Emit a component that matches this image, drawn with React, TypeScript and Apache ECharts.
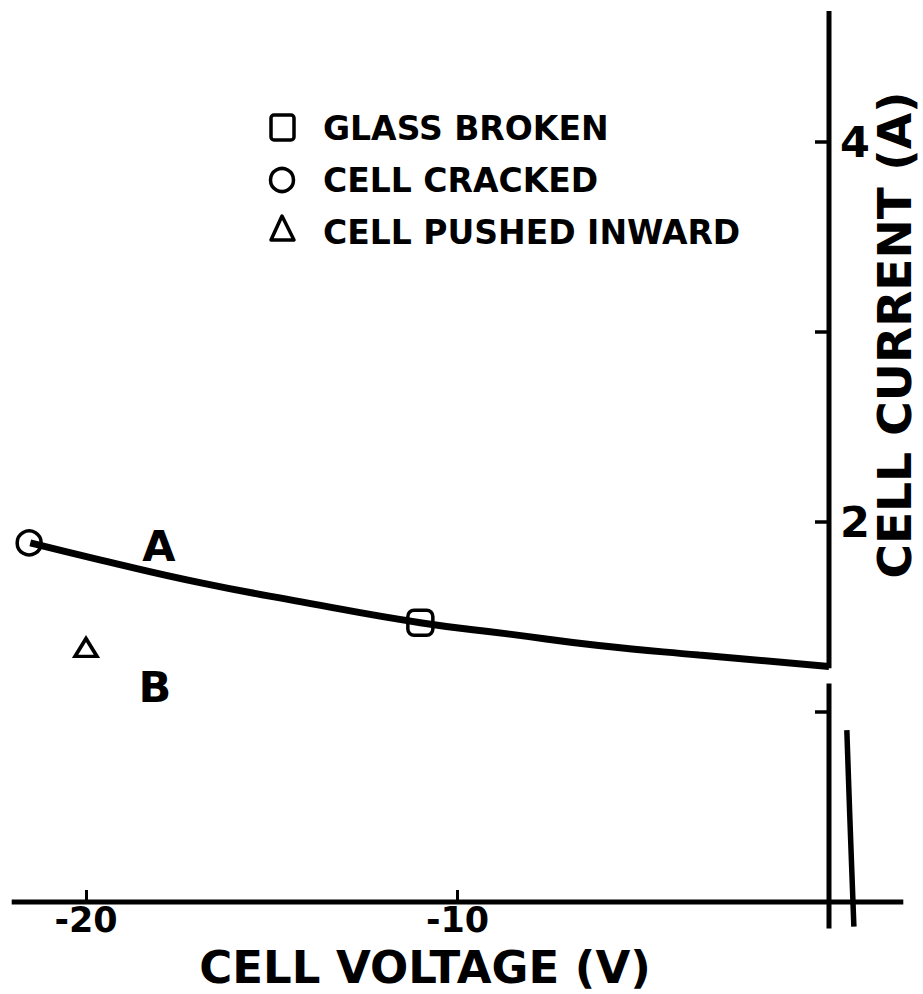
import React, { useEffect, useRef } from "react";
import * as echarts from "echarts";

// Curve A (reverse-bias I-V), volts / amps
const curveAVoltage = [-21.5, -19.6, -16.9, -14.2, -11.0, -8.6, -6.2, -3.5, 0];
const curveACurrent = [1.89, 1.8, 1.68, 1.58, 1.47, 1.41, 1.35, 1.3, 1.24];

// Near-vertical forward branch just right of V = 0
const forwardVoltage = [0.48, 0.56, 0.67];
const forwardCurrent = [0.905, 0.45, -0.13];

// Event markers
const glassBroken = [-11.0, 1.47];
const cellCracked = [-21.53, 1.89];
const cellPushedInward = [-20.0, 1.34];

// Broken current axis at V = 0, and voltage axis extent
const axisLowerSegment = [-0.14, 1.15];
const axisUpperSegment = [1.23, 4.69];
const voltageAxisExtent = [-22, 2];

// Axis ranges and ticks
const xRangeCurrentAxis = [-22, 0];
const xRangeFull = [-22, 2];
const yRange = [0, 4.69];
const xTicks = [-20, -10];
const xTickLabels = [-20, -10];
const yTicks = [1, 2, 3, 4];
const yTickLabels = [2, 4];

const legendLabels = ["GLASS BROKEN", "CELL CRACKED", "CELL PUSHED INWARD"];
const curveNames = ["A", "B"];

const FONT = "DejaVu Sans";

export default function App() {
  const ref = useRef<HTMLDivElement>(null);

  useEffect(() => {
    if (!ref.current) return;
    const chart = echarts.init(ref.current, null, { renderer: "svg" });
    const black = "#000";
    const zip = (a: number[], b: number[]) => a.map((v, i) => [v, b[i]]);
    const lineSeries = (name: string, data: number[][], width: number, smooth: any = false) => ({
      type: "line",
      name,
      data,
      xAxisIndex: 1,
      yAxisIndex: 1,
      symbol: "none",
      smooth,
      clip: false,
      silent: true,
      lineStyle: { color: black, width },
    });
    const markerStyle = { color: "rgba(255,255,255,0)", borderColor: black, borderWidth: 3.5, opacity: 1 };
    const scatter = (name: string, point: number[], symbol: string, size: any) => ({
      type: "scatter",
      name,
      data: [point],
      xAxisIndex: 1,
      yAxisIndex: 1,
      symbol,
      symbolSize: size,
      clip: false,
      itemStyle: markerStyle,
      z: 5,
    });
    const hiddenAxisParts = {
      axisLine: { show: false, onZero: false },
      axisTick: { show: false },
      axisLabel: { show: false },
      splitLine: { show: false },
    };

    const option: any = {
      animation: false,
      backgroundColor: "#fff",
      grid: [
        // grid 0: ends at V = 0, carries the current axis on its right edge
        { left: 11.7, width: 817.3, top: 11, height: 891, containLabel: false },
        // grid 1: full voltage extent, carries the data
        { left: 11.7, width: 891.6, top: 11, height: 891, containLabel: false },
      ],
      xAxis: [
        {
          type: "value",
          gridIndex: 0,
          min: xRangeCurrentAxis[0],
          max: xRangeCurrentAxis[1],
          ...hiddenAxisParts,
        },
        {
          type: "value",
          gridIndex: 1,
          min: xRangeFull[0],
          max: xRangeFull[1],
          splitLine: { show: false },
          axisLine: { show: false, onZero: false },
          axisTick: {
            show: true,
            inside: true,
            length: 12,
            customValues: xTicks,
            lineStyle: { color: black, width: 3 },
          },
          axisLabel: {
            show: true,
            customValues: xTickLabels,
            margin: 0,
            color: black,
            fontFamily: FONT,
            fontWeight: "bold",
            fontSize: 35,
          },
        },
      ],
      yAxis: [
        {
          type: "value",
          gridIndex: 0,
          position: "right",
          min: yRange[0],
          max: yRange[1],
          splitLine: { show: false },
          axisLine: { show: false, onZero: false },
          axisTick: {
            show: true,
            inside: true,
            length: 14,
            customValues: yTicks,
            lineStyle: { color: black, width: 3.5 },
          },
          axisLabel: {
            show: true,
            inside: false,
            customValues: yTickLabels,
            margin: 11,
            color: black,
            fontFamily: FONT,
            fontWeight: "bold",
            fontSize: 43,
          },
        },
        {
          type: "value",
          gridIndex: 1,
          min: yRange[0],
          max: yRange[1],
          ...hiddenAxisParts,
        },
      ],
      series: [
        lineSeries("voltage-axis", [[voltageAxisExtent[0], 0], [voltageAxisExtent[1], 0]], 5),
        lineSeries("current-axis-lower", [[0, axisLowerSegment[0]], [0, axisLowerSegment[1]]], 5),
        lineSeries("current-axis-upper", [[0, axisUpperSegment[0]], [0, axisUpperSegment[1]]], 5),
        lineSeries("A", zip(curveAVoltage, curveACurrent), 7, 0.5),
        lineSeries("forward", zip(forwardVoltage, forwardCurrent), 5.5, 0.3),
        scatter(legendLabels[0], glassBroken, "roundRect", 25),
        scatter(legendLabels[1], cellCracked, "circle", 24),
        scatter(legendLabels[2], cellPushedInward, "triangle", [22, 18]),
      ],
      graphic: [
        // legend
        {
          type: "rect",
          shape: { x: 271, y: 115, width: 23, height: 25, r: 3 },
          style: { fill: "none", stroke: black, lineWidth: 3.5 },
        },
        {
          type: "circle",
          shape: { cx: 282, cy: 180, r: 11.5 },
          style: { fill: "none", stroke: black, lineWidth: 3.5 },
        },
        {
          type: "polygon",
          shape: { points: [[271, 240], [282, 216], [294, 240]] },
          style: { fill: "none", stroke: black, lineWidth: 3.5, lineJoin: "round" },
        },
        ...legendLabels.map((t, i) => ({
          type: "text",
          x: 323,
          y: 128 + i * 52,
          style: {
            text: t,
            fill: black,
            font: `bold 33px ${FONT}`,
            verticalAlign: "middle",
          },
        })),
        // curve labels
        {
          type: "text",
          x: 159,
          y: 546,
          style: { text: curveNames[0], fill: black, font: `bold 43px ${FONT}`, align: "center", verticalAlign: "middle" },
        },
        {
          type: "text",
          x: 155,
          y: 687,
          style: { text: curveNames[1], fill: black, font: `bold 43px ${FONT}`, align: "center", verticalAlign: "middle" },
        },
        // axis titles
        {
          type: "text",
          x: 425,
          y: 967.5,
          style: { text: "CELL VOLTAGE (V)", fill: black, font: `bold 45px ${FONT}`, align: "center", verticalAlign: "middle" },
        },
        {
          type: "text",
          x: 894,
          y: 335,
          rotation: Math.PI / 2,
          style: { text: "CELL CURRENT (A)", fill: black, font: `bold 47px ${FONT}`, align: "center", verticalAlign: "middle" },
        },
      ],
    };

    chart.setOption(option);
    return () => chart.dispose();
  }, []);

  return (
    <div
      ref={ref}
      style={{ position: "absolute", left: 0, top: 0, width: 923, height: 994, background: "#fff" }}
    />
  );
}
